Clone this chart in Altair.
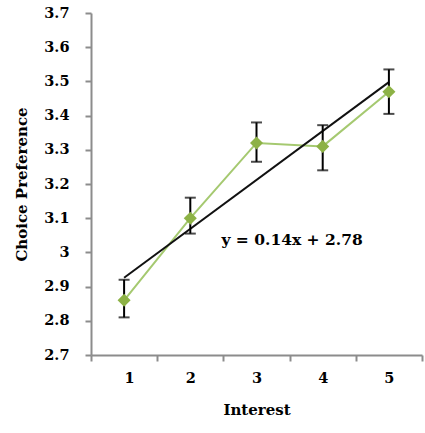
import altair as alt
import pandas as pd

interest = [1, 2, 3, 4, 5]
preference = [2.86, 3.10, 3.32, 3.31, 3.47]
err_low = [2.81, 3.055, 3.265, 3.24, 3.405]
err_high = [2.92, 3.16, 3.38, 3.372, 3.535]
equation = ["y = 0.14x + 2.78"]
x_ticks = [0.5, 1.5, 2.5, 3.5, 4.5, 5.5]
y_ticks = [2.7, 2.8, 2.9, 3.0, 3.1, 3.2, 3.3, 3.4, 3.5, 3.6, 3.7]

df = pd.DataFrame({"Interest": interest, "Pref": preference, "lo": err_low, "hi": err_high})

W, H = 331, 342
FONT = "DejaVu Serif"

xs = alt.Scale(domain=[0.5, 5.5], nice=False, zero=False)
ys = alt.Scale(domain=[2.7, 3.7], nice=False, zero=False)

x_axis = alt.Axis(
    values=x_ticks, title="Interest", grid=False, labelOverlap=False,
    labelExpr="datum.value < 5 ? format(datum.value + 0.5, 'd') : ''",
    labelOffset=W / 10, labelPadding=10, titlePadding=18,
)
y_axis = alt.Axis(values=y_ticks, tickCount=11, format="~g", title="Choice Preference", grid=False,
                  labelOverlap=False, labelPadding=16, titlePadding=14)

base = alt.Chart(df)

green_line = base.mark_line(color="#a5c970", strokeWidth=2).encode(
    x=alt.X("Interest:Q", scale=xs, axis=x_axis),
    y=alt.Y("Pref:Q", scale=ys, axis=y_axis),
)

reg = base.transform_regression("Interest", "Pref").mark_line(color="#111111", strokeWidth=2).encode(
    x=alt.X("Interest:Q", scale=xs, axis=x_axis),
    y=alt.Y("Pref:Q", scale=ys, axis=y_axis),
)

rules = base.mark_rule(color="black", strokeWidth=2).encode(
    x=alt.X("Interest:Q", scale=xs, axis=x_axis),
    y=alt.Y("lo:Q", scale=ys, axis=y_axis),
    y2="hi:Q",
)
cap_lo = base.mark_tick(color="black", thickness=2, size=11, orient="horizontal").encode(
    x=alt.X("Interest:Q", scale=xs, axis=x_axis), y=alt.Y("lo:Q", scale=ys, axis=y_axis))
cap_hi = base.mark_tick(color="black", thickness=2, size=11, orient="horizontal").encode(
    x=alt.X("Interest:Q", scale=xs, axis=x_axis), y=alt.Y("hi:Q", scale=ys, axis=y_axis))

points = base.mark_point(shape="diamond", filled=True, color="#8db246", size=170, opacity=1).encode(
    x=alt.X("Interest:Q", scale=xs, axis=x_axis),
    y=alt.Y("Pref:Q", scale=ys, axis=y_axis),
)

eq = alt.Chart(pd.DataFrame({"t": equation})).mark_text(
    font=FONT, fontWeight="bold", fontSize=15.5, align="left", baseline="middle", color="black"
).encode(
    x=alt.XDatum(2.47, type="quantitative", scale=xs, axis=x_axis),
    y=alt.YDatum(3.035, type="quantitative", scale=ys, axis=y_axis),
    text="t:N",
)

chart = alt.layer(green_line, reg, rules, cap_lo, cap_hi, points, eq).properties(
    width=W, height=H,
    autosize=alt.AutoSizeParams(type="none"),
    padding={"left": 91, "top": 13, "right": 3, "bottom": 78},
).configure_view(stroke=None).configure_axis(
    domainColor="#8c8c8c", domainWidth=2, tickColor="#8c8c8c", tickWidth=2, tickSize=6,
    labelOverlap=False,
    labelFont=FONT, labelFontWeight="bold", labelFontSize=14.5, labelColor="black",
    titleFont=FONT, titleFontWeight="bold", titleFontSize=15, titleColor="black",
)

chart.save("out.html", embed_options={"renderer": "svg", "actions": False})
